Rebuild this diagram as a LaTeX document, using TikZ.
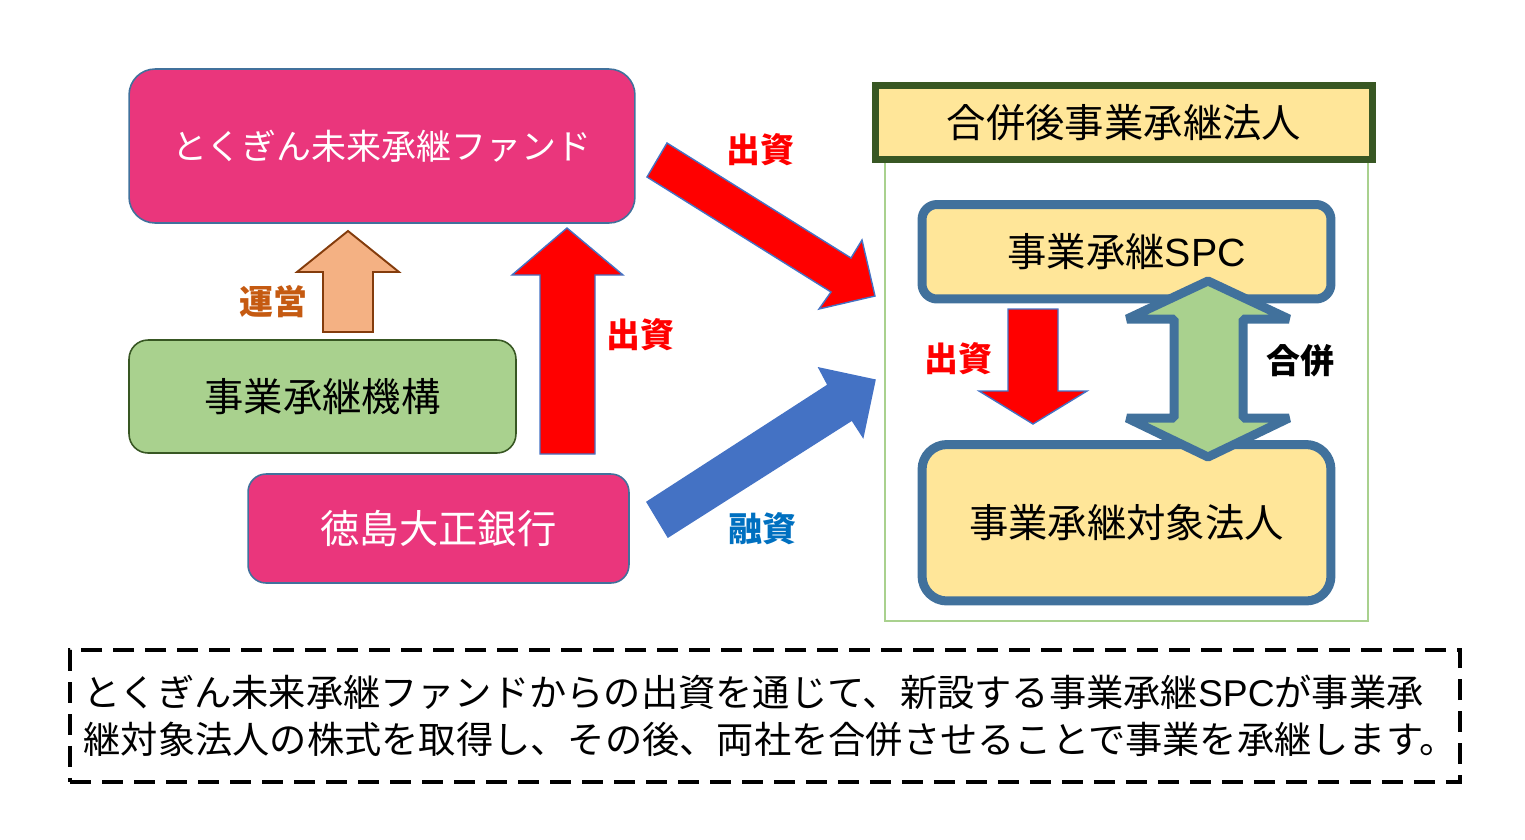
\documentclass[tikz,border=0pt]{standalone}
\usepackage{fontspec}
\setmainfont{Noto Sans CJK JP}
\newfontfamily\latinfont{Liberation Sans}
\usetikzlibrary{arrows.meta}
\definecolor{fundPink}{HTML}{EA367C}
\definecolor{edgeBlue}{HTML}{41719C}
\definecolor{kikoGreen}{HTML}{A9D18E}
\definecolor{kikoEdge}{HTML}{385723}
\definecolor{spcYellow}{HTML}{FFE699}
\definecolor{runBrown}{HTML}{843C0C}
\definecolor{runOrange}{HTML}{F4B183}
\definecolor{runText}{HTML}{C55A11}
\definecolor{loanBlue}{HTML}{4472C4}
\definecolor{loanText}{HTML}{0070C0}

\begin{document}
\begin{tikzpicture}[x=0.02cm, y=-0.02cm,
  pinkbox/.style={draw=edgeBlue, line width=0.9pt, fill=fundPink, text=white,
    inner sep=0pt, font=\fontsize{22.4}{26}\selectfont},
  kikobox/.style={draw=kikoEdge, line width=0.9pt, fill=kikoGreen, rounded corners=0.38cm,
    inner sep=0pt, font=\fontsize{22.4}{26}\selectfont},
  spcbox/.style={draw=edgeBlue, line width=0.18cm, fill=spcYellow, minimum width=8.18cm,
    inner sep=0pt, font=\fontsize{22.4}{26}\selectfont},
  lbl/.style={inner sep=0pt, font=\fontsize{19.3}{22}\selectfont\bfseries},
  redarr/.style={draw=loanBlue, line width=0.8pt, fill=red, line join=miter},
  runarr/.style={draw=runBrown, line width=1.1pt, fill=runOrange},
  loanarr/.style={draw=loanBlue, line width=0.8pt, fill=loanBlue},
  mergearr/.style={draw=edgeBlue, line width=0.18cm, fill=kikoGreen, line join=bevel}
]
\useasboundingbox (0,0) rectangle (1525,839);

% left side
\node[pinkbox, rounded corners=0.52cm, minimum width=10.12cm, minimum height=3.08cm,
  font=\fontsize{19.9}{24}\selectfont] (fund) at (382,146) {とくぎん未来承継ファンド};
\node[kikobox, minimum width=7.74cm, minimum height=2.26cm] (kiko) at (322.5,396.5) {事業承継機構};
\node[pinkbox, rounded corners=0.36cm, minimum width=7.62cm, minimum height=2.18cm] (bank) at (438.5,528.5) {徳島大正銀行};

% right side
\draw[kikoGreen, line width=1.1pt] (885,160) rectangle (1368,621);
\node[draw=kikoEdge, line width=0.14cm, fill=spcYellow, minimum width=9.96cm, minimum height=1.5cm,
  inner sep=0pt, font=\fontsize{22.4}{26}\selectfont] (after) at (1124,122.5) {合併後事業承継法人};
\node[spcbox, rounded corners=0.3cm, minimum height=1.89cm] (spc) at (1126.5,251.75) {事業承継{\latinfont SPC}};
\node[spcbox, rounded corners=0.5cm, minimum height=3.13cm] (target) at (1126.5,522.75) {事業承継対象法人};

% block arrows
\draw[runarr] (323,332) -- (323,272) -- (297,272) -- (348,231) -- (399,272) -- (373,272) -- (373,332) -- cycle;
\draw[redarr] (540,454) -- (540,275) -- (512,275) -- (567,228) -- (623,275) -- (595,275) -- (595,454) -- cycle;
\draw[redarr] (667,143) -- (851,258) -- (862,240) -- (875,296) -- (819,309) -- (831,292) -- (647,177) -- cycle;
\draw[loanarr] (647,502) -- (828,385) -- (819,368) -- (875,380) -- (863,437) -- (852,420) -- (668,537) -- cycle;
\draw[redarr] (1008,309) -- (1058,309) -- (1058,391) -- (1087,391) -- (1033,424) -- (979,391) -- (1008,391) -- cycle;
\draw[mergearr] (1208,281) -- (1289,319) -- (1243,319) -- (1243,418) -- (1289,418) -- (1208,457)
  -- (1127,418) -- (1174,418) -- (1174,319) -- (1127,319) -- cycle;

% labels
\node[lbl, text=runText] (unei) at (273,302) {運営};
\node[lbl, text=red] (shusshi1) at (760,150) {出資};
\node[lbl, text=red] (shusshi2) at (640,335) {出資};
\node[lbl, text=loanText] (yushi) at (762,529) {融資};
\node[lbl, text=red] (shusshi3) at (958,359) {出資};
\node[lbl] (gappei) at (1300,361) {合併};

% note
\node[draw, line width=0.08cm, dash pattern=on 0.42cm off 0.22cm, minimum width=27.8cm, minimum height=2.64cm,
  inner xsep=0.27cm, inner ysep=0pt, text width=27.26cm, align=left,
  font=\fontsize{21.2}{26.6}\selectfont] (note) at (765,716)
  {とくぎん未来承継ファンドからの出資を通じて、新設する事業承継{\latinfont SPC}が事業承\\
   継対象法人の株式を取得し、その後、両社を合併させることで事業を承継します。};
\end{tikzpicture}
\end{document}
